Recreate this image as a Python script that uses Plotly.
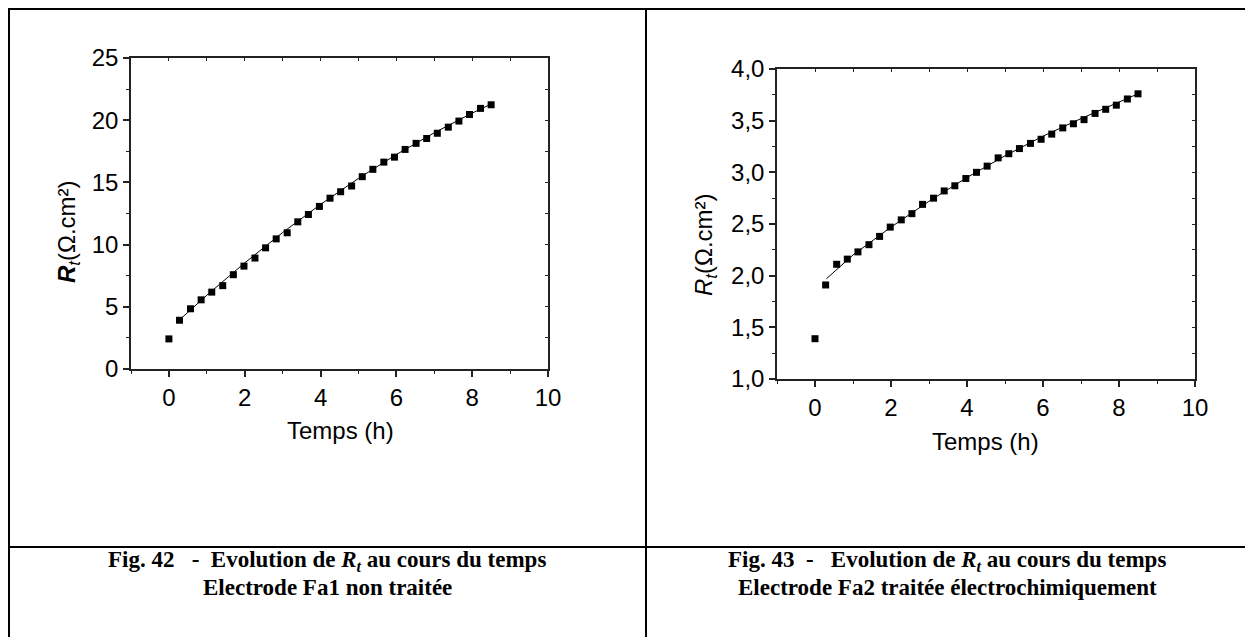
import plotly.graph_objects as go

# temps de mesure (h), communs aux deux électrodes
temps = [0, 0.28, 0.57, 0.85, 1.13, 1.42, 1.70, 1.98, 2.27, 2.55, 2.83, 3.12, 3.40, 3.68, 3.97, 4.25,
         4.53, 4.82, 5.10, 5.38, 5.67, 5.95, 6.23, 6.52, 6.80, 7.08, 7.37, 7.65, 7.93, 8.22, 8.50]

# Fig. 42 - électrode Fa1 non traitée
rt_fa1 = [2.42, 3.92, 4.84, 5.56, 6.18, 6.70, 7.58, 8.27, 8.92, 9.74, 10.46, 10.95, 11.83, 12.42, 13.07, 13.73,
          14.25, 14.71, 15.46, 16.05, 16.63, 17.03, 17.65, 18.14, 18.53, 18.95, 19.44, 19.93, 20.46, 20.95, 21.24]
fit_t_fa1 = [0.28, 1, 2, 3, 4, 5, 6, 7, 8, 8.5]
fit_fa1 = [3.95, 5.93, 8.53, 10.97, 13.23, 15.32, 17.24, 18.99, 20.57, 21.3]

# Fig. 43 - électrode Fa2 traitée
rt_fa2 = [1.39, 1.91, 2.11, 2.16, 2.23, 2.30, 2.38, 2.47, 2.54, 2.60, 2.69, 2.75, 2.82, 2.87, 2.94, 3.00,
          3.06, 3.14, 3.18, 3.23, 3.28, 3.32, 3.37, 3.43, 3.47, 3.51, 3.57, 3.61, 3.65, 3.71, 3.76]
fit_t_fa2 = [0.3, 1, 2, 3, 4, 5, 6, 7, 8, 8.5]
fit_fa2 = [1.97, 2.20, 2.47, 2.72, 2.95, 3.16, 3.35, 3.52, 3.68, 3.76]

W, H = 1245, 637
SANS = "Liberation Sans, Arial, sans-serif"
SERIF = "Liberation Serif, Times New Roman, serif"
NB = "\u00a0"


def fx(p):  # pixel -> paper
    return p / W


def fy(p):
    return 1 - p / H


fig = go.Figure()


def add_panel(xa, ya, xt, yt, t, v, ft, fv):
    fig.add_trace(go.Scatter(x=ft, y=fv, mode="lines", line=dict(color="black", width=1),
                             xaxis=xa, yaxis=ya, showlegend=False, hoverinfo="skip"))
    fig.add_trace(go.Scatter(x=t, y=v, mode="markers", marker=dict(symbol="square", size=7, color="black"),
                             xaxis=xa, yaxis=ya, showlegend=False))
    # axes miroirs (haut / droite) avec graduations vers l'intérieur
    fig.add_trace(go.Scatter(x=[None], y=[None], xaxis=xt, yaxis=ya, showlegend=False, hoverinfo="skip"))
    fig.add_trace(go.Scatter(x=[None], y=[None], xaxis=xa, yaxis=yt, showlegend=False, hoverinfo="skip"))


add_panel("x", "y", "x3", "y3", temps, rt_fa1, fit_t_fa1, fit_fa1)
add_panel("x2", "y2", "x4", "y4", temps, rt_fa2, fit_t_fa2, fit_fa2)

ax = dict(showline=True, linecolor="#222", linewidth=1.5, showgrid=False, zeroline=False, automargin=False,
          ticks="outside", ticklen=6, tickwidth=1.5, tickcolor="#222",
          tickfont=dict(family=SANS, size=24, color="black"))
xr = dict(range=[-1, 10], tick0=0, dtick=2,
          minor=dict(dtick=1, tick0=1, ticks="outside", ticklen=3, tickcolor="#222", tickwidth=1.2))
mir = dict(showline=True, linecolor="#222", linewidth=1.5, showgrid=False, zeroline=False, automargin=False,
           ticks="inside", ticklen=3, tickwidth=1.2, tickcolor="#222", showticklabels=False)

dom1x = [fx(131), fx(548)]
dom1y = [fy(369), fy(58)]
dom2x = [fx(777), fx(1195)]
dom2y = [fy(379), fy(69)]

yr1 = dict(range=[0, 25], tick0=0, dtick=5,
           minor=dict(dtick=2.5, ticks="outside", ticklen=3, tickcolor="#222", tickwidth=1.2))
yr2 = dict(range=[1, 4], tick0=1, dtick=0.5, tickformat=".1f",
           minor=dict(dtick=0.25, ticks="outside", ticklen=3, tickcolor="#222", tickwidth=1.2))

fig.update_layout(
    width=W, height=H, margin=dict(l=0, r=0, t=0, b=0, pad=0, autoexpand=False),
    paper_bgcolor="white", plot_bgcolor="white", separators=", ",
    xaxis=dict(**ax, **xr, domain=dom1x, anchor="y"),
    yaxis=dict(**ax, **yr1, domain=dom1y, anchor="x"),
    xaxis3=dict(**mir, range=[-1, 10], tick0=0, dtick=1, overlaying="x", side="top", anchor="y"),
    yaxis3=dict(**mir, range=[0, 25], tick0=0, dtick=2.5, overlaying="y", side="right", anchor="x"),
    xaxis2=dict(**ax, **xr, domain=dom2x, anchor="y2"),
    yaxis2=dict(**ax, **yr2, domain=dom2y, anchor="x2"),
    xaxis4=dict(**mir, range=[-1, 10], tick0=0, dtick=1, overlaying="x2", side="top", anchor="y2"),
    yaxis4=dict(**mir, range=[1, 4], tick0=1, dtick=0.25, overlaying="y2", side="right", anchor="x2"),
)

ann = dict(xref="paper", yref="paper", showarrow=False, xanchor="center", yanchor="middle")
lab = dict(family=SANS, size=24, color="black")
fig.add_annotation(**ann, x=fx(69), y=fy(232), textangle=-90, font=lab,
                   text="<b><i>R</i></b><sub><i>t</i></sub>(Ω.cm²)")
fig.add_annotation(**ann, x=fx(340), y=fy(430), font=lab, text="Temps (h)")
fig.add_annotation(**ann, x=fx(706), y=fy(245), textangle=-90, font=lab,
                   text="<i>R</i><sub><i>t</i></sub>(Ω.cm²)")
fig.add_annotation(**ann, x=fx(986), y=fy(441), font=lab, text="Temps (h)")

cap = dict(family=SERIF, size=23, color="black")
captions = [
    (327, f"<b>Fig. 42{NB*3}-{NB*2}Evolution de <i>R<sub>t</sub></i> au cours du temps</b>",
     "<b>Electrode Fa1 non traitée</b>"),
    (947, f"<b>Fig. 43{NB*2}-{NB*3}Evolution de <i>R<sub>t</sub></i> au cours du temps</b>",
     "<b>Electrode Fa2 traitée électrochimiquement</b>"),
]
for cx, l1, l2 in captions:
    fig.add_annotation(**ann, x=fx(cx), y=fy(561), font=cap, text=l1)
    fig.add_annotation(**ann, x=fx(cx), y=fy(587), font=cap, text=l2)

# cadre du tableau
ln = dict(color="black", width=2)
for x0, y0, x1, y1 in [(8, 9, 1245, 9), (9, 8, 9, 637), (646, 8, 646, 637), (8, 547, 1245, 547)]:
    fig.add_shape(type="line", xref="paper", yref="paper", x0=fx(x0), y0=fy(y0), x1=fx(x1), y1=fy(y1), line=ln)

fig.write_html("out.html", config=dict(displayModeBar=False),
               post_script="document.body.style.margin='0';document.body.style.overflow='hidden';")
